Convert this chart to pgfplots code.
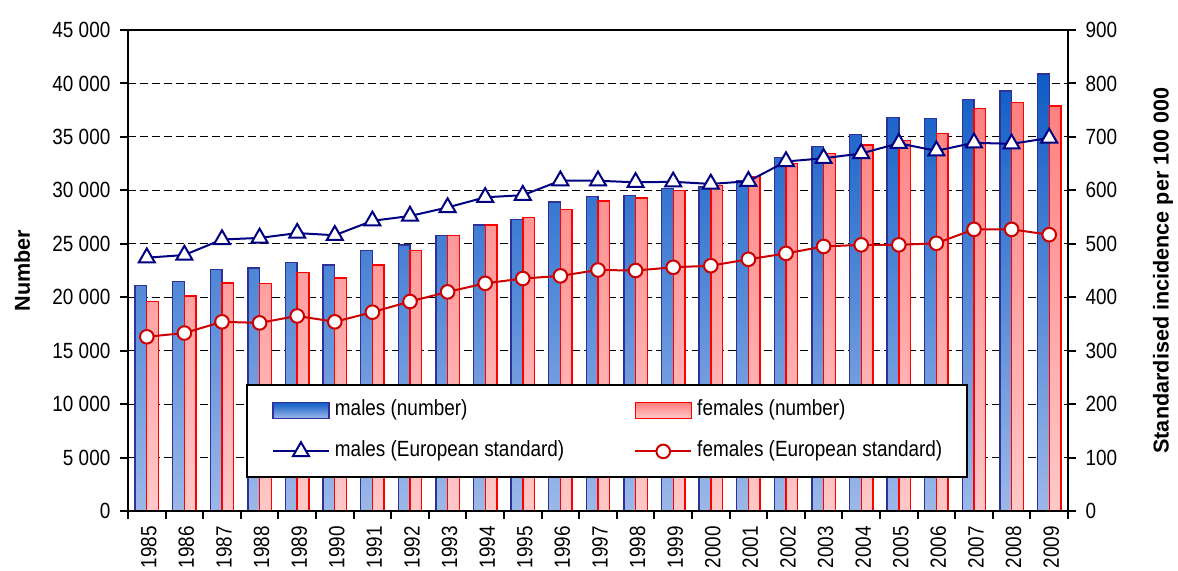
\documentclass[border=0pt]{standalone}
\usepackage{fontspec}
\setmainfont{Liberation Sans}[FakeStretch=0.86]
\newfontfamily\labelfont{Liberation Sans}
\usepackage{pgfplots}
\usepackage{pgfplotstable}
\pgfplotsset{compat=1.18}

\definecolor{mbord}{HTML}{30309A}
\definecolor{mtop}{HTML}{0E5CC6}
\definecolor{mbot}{HTML}{9CB8E8}
\definecolor{fbord}{HTML}{FF0000}
\definecolor{ftop}{HTML}{FF8080}
\definecolor{fbot}{HTML}{FFC8C8}
\definecolor{mline}{HTML}{000080}
\definecolor{fline}{HTML}{CC0000}

% year, males, females (number), males, females (European standard)
\pgfplotstableread{
x year m f mstd fstd
0 1985 21100 19600 474 326
1 1986 21450 20100 479 333
2 1987 22600 21350 508 354
3 1988 22750 21300 511 352
4 1989 23250 22300 520 365
5 1990 23000 21800 516 354
6 1991 24350 23000 543 372
7 1992 24900 24400 552 392
8 1993 25800 25750 568 410
9 1994 26750 26750 587 426
10 1995 27300 27450 591 435
11 1996 28900 28200 618 440
12 1997 29400 29000 618 451
13 1998 29500 29300 615 450
14 1999 30200 30000 616 456
15 2000 30300 30450 612 459
16 2001 30900 31300 617 471
17 2002 33050 32500 654 482
18 2003 34100 33450 660 495
19 2004 35200 34250 669 498
20 2005 36800 34650 688 498
21 2006 36700 35300 674 501
22 2007 38500 37650 689 527
23 2008 39300 38200 687 527
24 2009 40900 37900 698 517
}\data

\pgfplotsset{
  malebar/.style={draw=mbord, top color=mtop, bottom color=mbot, line width=0.7pt},
  femalebar/.style={draw=fbord, top color=ftop, bottom color=fbot, line width=0.7pt},
  barleg/.style={legend image code/.code={\draw[##1] (0pt,-4pt) rectangle (28pt,4pt);}},
  lineleg/.style={legend image code/.code={\draw[##1, mark repeat=2, mark phase=2] plot coordinates {(0pt,0pt) (14pt,0pt) (28pt,0pt)};}},
  common/.style={
    scale only axis, width=470pt, height=240.5pt,
    xmin=-0.5, xmax=24.5,
    tick align=outside,
    major tick length=4pt, minor tick length=4pt,
    every tick/.style={black, line width=1pt},
    axis line style={line width=1pt},
    tick label style={font=\fontsize{11}{13}\selectfont},
    label style={font=\labelfont\bfseries\fontsize{10.8}{13}\selectfont},
    /pgf/number format/assume math mode=true,
  },
}

\begin{document}
\begin{tikzpicture}
\begin{axis}[
  common,
  ymin=0, ymax=45000,
  ytick={0,5000,...,45000},
  scaled y ticks=false,
  yticklabel style={/pgf/number format/1000 sep={\ }, xshift=-1.3pt},
  ytick pos=left,
  xtick={0,...,24},
  xticklabels from table={\data}{year},
  xtick pos=bottom,
  major x tick style={draw=none},
  minor xtick={-0.5,0.5,...,24.5},
  minor x tick style={black, line width=1pt},
  xticklabel style={rotate=90, anchor=east, yshift=-1pt},
  ymajorgrids,
  major grid style={black, line width=0.5pt, dash pattern=on 4pt off 2pt},
  ylabel={Number},
  ylabel style={at={(axis description cs:-0.1125,0.5)}, anchor=center},
]
\addplot[ybar, bar width=0.31, bar shift=-0.155, malebar] table[x=x, y=m] {\data};
\addplot[ybar, bar width=0.31, bar shift=0.155, femalebar] table[x=x, y=f] {\data};
\end{axis}

\begin{axis}[
  common,
  ymin=0, ymax=900,
  ytick={0,100,...,900},
  yticklabel style={xshift=1.3pt},
  axis y line*=right,
  axis x line=box,
  xtick=\empty,
  ylabel={Standardised incidence per 100 000},
  ylabel style={at={(axis description cs:1.101,0.5)}, anchor=center},
  legend columns=2,
  legend cell align=left,
  legend style={
    at={(rel axis cs:0.1255,0.0688)}, anchor=south west,
    draw=black, line width=1pt, fill=white,
    inner xsep=12.5pt, inner ysep=7.5pt,
    font=\fontsize{11}{13}\selectfont,
    nodes={inner sep=0pt, text height=8pt, text depth=2.5pt},
    row sep=10pt,
    /tikz/every odd column/.append style={column sep=2.5pt},
    /tikz/every even column/.append style={column sep=35pt},
  },
]
\addlegendimage{malebar, barleg}
\addlegendentry{males (number)}
\addlegendimage{femalebar, barleg}
\addlegendentry{females (number)}
\addplot[mline, line width=1pt, mark=triangle*, mark size=4.6pt,
  mark options={fill=white, draw=mline, line width=1pt}, lineleg]
  table[x=x, y=mstd] {\data};
\addlegendentry{males (European standard)}
\addplot[fline, line width=1pt, mark=*, mark size=3.4pt,
  mark options={fill=white, draw=fline, line width=1pt}, lineleg]
  table[x=x, y=fstd] {\data};
\addlegendentry{females (European standard)}
\end{axis}
\pgfresetboundingbox
\path (-64pt,-29.5pt) rectangle (525pt,255.5pt);
\end{tikzpicture}
\end{document}
